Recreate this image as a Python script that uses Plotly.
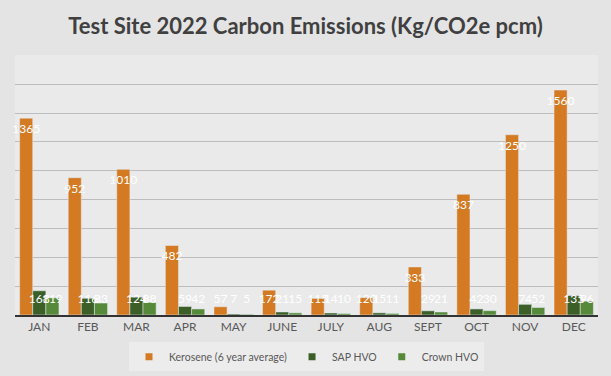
import plotly.graph_objects as go

months = ["JAN", "FEB", "MAR", "APR", "MAY", "JUNE", "JULY", "AUG", "SEPT", "OCT", "NOV", "DEC"]
kerosene = [1365, 952, 1010, 482, 57, 172, 115, 120, 333, 837, 1250, 1560]
sap_hvo = [168, 116, 124, 59, 7, 21, 14, 15, 29, 42, 74, 135]
crown_hvo = [119, 83, 88, 42, 5, 15, 10, 11, 21, 30, 52, 96]

series = [
    ("Kerosene (6 year average)", kerosene, "#D47A22"),
    ("SAP HVO", sap_hvo, "#3B5F27"),
    ("Crown HVO", crown_hvo, "#568A3A"),
]

BARGAP = 0.19
BAR_W = (1 - BARGAP) / len(series)
LABEL_DROP = 83     # label sits just inside the top of the bar (data units)
LABEL_MIN = 104     # label never goes lower than this (data units)

xs = list(range(len(months)))
fig = go.Figure()
for k, (name, vals, color) in enumerate(series):
    fig.add_trace(go.Bar(
        x=xs, y=vals, name=name, marker_color=color, showlegend=False,
        hoverinfo="y",
    ))
for k, (name, vals, color) in enumerate(series):
    off = (k - (len(series) - 1) / 2) * BAR_W
    fig.add_trace(go.Scatter(
        x=[i + off for i in xs], y=[max(v - LABEL_DROP, LABEL_MIN) for v in vals],
        mode="text", text=[str(v) for v in vals], showlegend=False,
        textfont=dict(color="white", size=12, family="Lato"), hoverinfo="skip",
        cliponaxis=False,
    ))
for name, vals, color in series:
    fig.add_trace(go.Scatter(
        x=[None], y=[None], mode="markers", name=name,
        marker=dict(symbol="square", size=7, color=color),
    ))

fig.update_layout(
    width=611, height=376,
    margin=dict(l=15, r=13, t=55, b=61, autoexpand=False),
    paper_bgcolor="#e4e4e4", plot_bgcolor="#eaeaea",
    barmode="group", bargap=BARGAP, bargroupgap=0,
    title=dict(text="Test Site 2022 Carbon Emissions (Kg/CO2e pcm)",
               x=0.5, xanchor="center", y=0.931, yanchor="middle",
               font=dict(family="Lato", size=22, color="#404040", weight="bold")),
    font=dict(family="Lato", color="#595959"),
    legend=dict(orientation="h", x=0.5, xanchor="center",
                yref="container", y=0.09, yanchor="top",
                bgcolor="#ececec", font=dict(size=10.5, color="#595959"),
                itemwidth=30, traceorder="normal", tracegroupgap=0),
    xaxis=dict(showline=True, linecolor="#333333", linewidth=2, ticks="",
               tickmode="array", tickvals=xs, ticktext=months,
               range=[-0.5, len(months) - 0.5], automargin=False,
               tickfont=dict(size=12, color="#595959"), showgrid=False),
    yaxis=dict(range=[0, 1803], dtick=200, showticklabels=False, automargin=False,
               gridcolor="#bdbdbd", gridwidth=1, zeroline=False),
)

fig.write_html("out.html", config={"displayModeBar": False},
               post_script="document.body.style.margin='0';")
